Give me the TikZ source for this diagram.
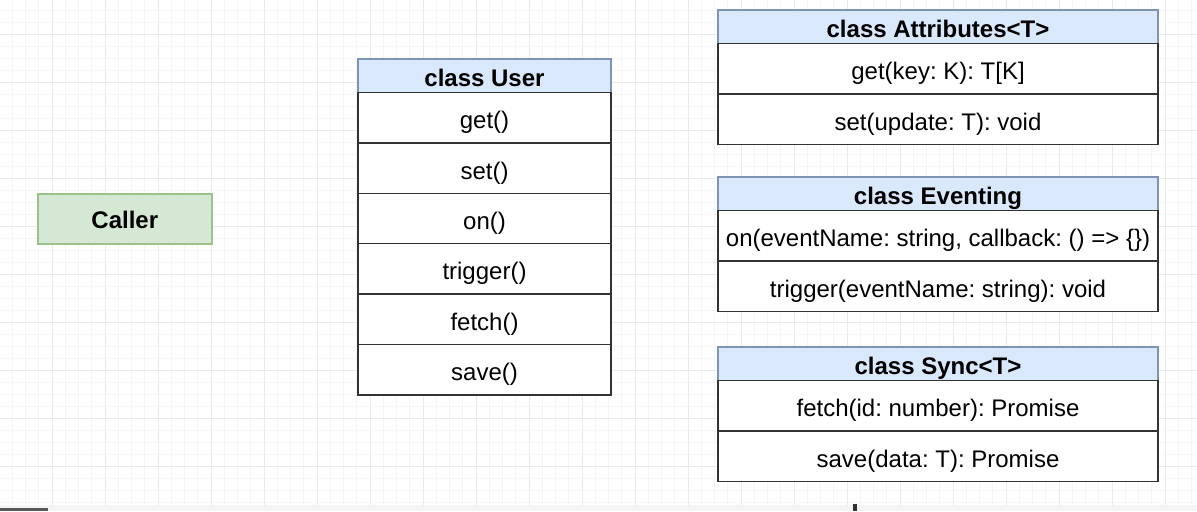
\documentclass[tikz,border=0pt]{standalone}
\usepackage{fontspec}
\setmainfont{Liberation Sans}
\usetikzlibrary{positioning}
\definecolor{hdrfill}{HTML}{DAE8FC}
\definecolor{hdrline}{HTML}{7F93B3}
\definecolor{rowline}{HTML}{333333}
\definecolor{callfill}{HTML}{D5E8D4}
\definecolor{callline}{HTML}{9CC28B}
\definecolor{gridminor}{HTML}{F5F5F5}
\definecolor{gridmajor}{HTML}{EAEAEA}
\frenchspacing

\begin{document}
\begin{tikzpicture}[x=0.5pt, y=-0.5pt, node distance=0pt, font=\fontsize{12pt}{14pt}\selectfont,
    hdr/.style = {draw=hdrline, fill=hdrfill, line width=0.7pt, minimum height=16.75pt, inner sep=0pt, outer sep=0pt, text height=11pt, text depth=0pt, font=\fontsize{12pt}{14pt}\selectfont\bfseries},
    row/.style = {draw=rowline, fill=white, line width=0.7pt, minimum height=25.2pt, inner sep=0pt, outer sep=0pt, text height=11pt, text depth=0pt},
    narrow/.style = {minimum width=126.5pt},
    wide/.style = {minimum width=220pt}]
      \useasboundingbox (0,0) rectangle (1197,511);
      % grid
      \foreach \i in {0,...,91} \draw[gridminor, line width=0.4pt] ({-1+13.25*\i},0) -- ++(0,505);
      \foreach \j in {0,...,42} \draw[gridminor, line width=0.4pt] (0,{-2+12*\j}) -- ++(1197,0);
      \foreach \i in {0,...,22} \draw[gridmajor, line width=0.5pt] ({-1+53*\i},0) -- ++(0,505);
      \foreach \j in {0,...,10} \draw[gridmajor, line width=0.5pt] (0,{34+48*\j}) -- ++(1197,0);
      \fill[gray!8] (0,505) rectangle (1197,511);
      \fill[gray!70!black] (0,508) rectangle (48,511);
      \fill[black!80] (853,504) rectangle (857,511);

      \node[draw=callline, fill=callfill, line width=0.8pt, minimum width=87pt, minimum height=25pt, inner sep=0pt, anchor=north west, text height=10pt, text depth=0pt, font=\fontsize{12pt}{14pt}\selectfont\bfseries] (caller) at (37,193) {Caller};

      % class User
      \node[hdr, narrow, anchor=north west] (user) at (358,59) {class User};
      \node[row, narrow] (u1) [below=of user] {get()};
      \node[row, narrow] (u2) [below=of u1] {set()};
      \node[row, narrow] (u3) [below=of u2] {on()};
      \node[row, narrow] (u4) [below=of u3] {trigger()};
      \node[row, narrow] (u5) [below=of u4] {fetch()};
      \node[row, narrow] (u6) [below=of u5] {save()};

      % class Attributes
      \node[hdr, wide, anchor=north west] (attr) at (718,10) {class Attributes<T>};
      \node[row, wide] (a1) [below=of attr] {get(key: K): T[K]};
      \node[row, wide] (a2) [below=of a1] {set(update: T): void};

      % class Eventing
      \node[hdr, wide, anchor=north west] (evt) at (718,177) {class Eventing};
      \node[row, wide] (e1) [below=of evt] {on(eventName: string, callback: () => \{\})};
      \node[row, wide] (e2) [below=of e1] {trigger(eventName: string): void};

      % class Sync
      \node[hdr, wide, anchor=north west] (sync) at (718,347) {class Sync<T>};
      \node[row, wide] (s1) [below=of sync] {fetch(id: number): Promise};
      \node[row, wide] (s2) [below=of s1] {save(data: T): Promise};
\end{tikzpicture}
\end{document}
